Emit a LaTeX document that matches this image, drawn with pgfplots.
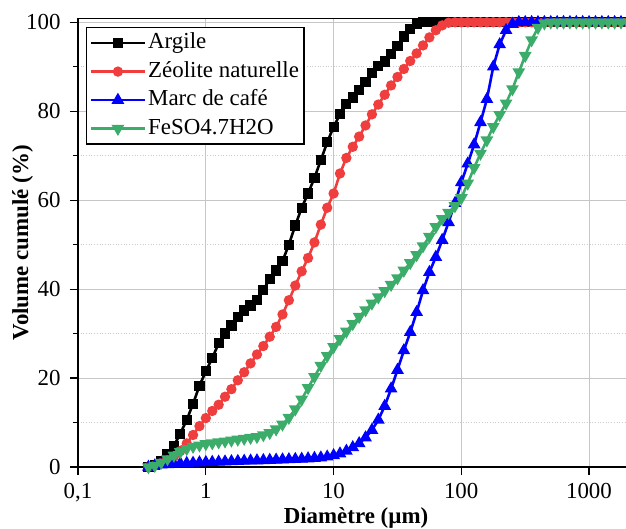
\documentclass[border=0pt]{standalone}
\usepackage{fontspec}
\setmainfont{Liberation Serif}
\usepackage{pgfplots}
\pgfplotsset{compat=1.18}
\definecolor{cred}{RGB}{240,62,62}
\definecolor{cblue}{RGB}{0,0,255}
\definecolor{cgreen}{RGB}{60,172,106}
\begin{document}
\begin{tikzpicture}
\path[use as bounding box] (-78bp,-62bp) rectangle (548bp,467bp);
\begin{axis}[
  at={(0,0)}, anchor=south west,
  scale only axis, width=548bp, height=448.5bp,
  xmode=log, log basis x=10,
  xmin=0.1, xmax=1950, ymin=0, ymax=100.85,
  clip=false,
  axis x line*=bottom, axis y line*=left,
  axis line style={-, line width=1.3bp, black},
  font=\fontsize{23}{27}\selectfont,
  /pgf/number format/assume math mode=true,
  tick label style={font=\fontsize{23}{27}\selectfont},
  xticklabel style={yshift=-5bp},
  yticklabel style={xshift=-6bp},
  xtick={0.1,1,10,100,1000},
  xticklabels={{0,1},{1},{10},{100},{1000}},
  ytick={0,20,40,60,80,100},
  minor ytick={10,30,50,70,90},
  tick align=outside,
  major tick length=8bp, minor tick length=5bp,
  tick style={black, line width=1.2bp},
  grid=both,
  major grid style={gray!45, line width=0.8bp, solid},
  minor grid style={gray!40, line width=0.7bp, dotted},
  xlabel={\textbf{Diamètre (µm)}},
  ylabel={\textbf{Volume cumulé (\%)}},
  xlabel style={at={(axis description cs:0.5,0)}, anchor=base, yshift=-56bp, xshift=4bp},
  ylabel style={at={(axis description cs:0,0.5)}, anchor=north, inner sep=0pt, yshift=66bp},
  legend cell align=left,
  legend style={at={(axis description cs:0,1)}, anchor=north west, xshift=8bp, yshift=-8.5bp,
    draw=black, line width=1.2bp, fill=white, inner sep=3bp, row sep=3.5bp,
    font=\fontsize{23}{27}\selectfont,
    nodes={inner sep=2bp, text height=16bp, text depth=5bp}},
  legend image code/.code={\draw[mark repeat=2,mark phase=2,#1] plot coordinates {(0bp,0bp) (27bp,0bp) (54bp,0bp)};},
  every axis plot/.append style={line width=2.6bp},
]
\addplot[black, mark=square*, mark size=3.8bp, mark options={solid}] coordinates {
(0.356,0) (0.399,0.5) (0.448,1.4) (0.502,2.8) (0.564,4.8) (0.632,7.5) (0.710,10.6) (0.796,14.2) (0.893,18.3) (1.002,21.5) (1.125,24.5) (1.262,27.8) (1.416,30.0) (1.589,31.8) (1.783,33.8) (2.000,35.2) (2.244,36.3) (2.518,37.6) (2.825,39.8) (3.170,42.3) (3.557,44.2) (3.991,46.3) (4.477,50.0) (5.024,54.3) (5.637,58.3) (6.325,61.5) (7.096,65.0) (7.962,69.0) (8.934,73.0) (10.024,76.5) (11.247,79.3) (12.619,81.6) (14.159,83.1) (15.887,84.7) (17.825,86.5) (20.000,88.6) (22.440,90.1) (25.179,91.2) (28.251,92.8) (31.698,94.6) (35.566,96.8) (39.905,98.5) (44.774,99.6) (50.238,100) (56.368,100) (63.246,100) (70.963,100) (79.621,100) (89.337,100) (100.237,100) (112.468,100) (126.191,100) (141.589,100) (158.866,100) (178.250,100) (200.000,100) (224.404,100) (251.785,100) (282.508,100) (316.979,100) (355.656,100) (399.052,100) (447.744,100) (502.377,100) (563.677,100) (632.456,100) (709.627,100) (796.214,100) (893.367,100) (1002.374,100) (1124.683,100) (1261.915,100) (1415.892,100) (1588.656,100) (1782.502,100) (2000,100)
};
\addlegendentry{Argile}
\addplot[cred, mark=*, mark size=3.8bp, mark options={solid}] coordinates {
(0.356,0) (0.399,0.3) (0.448,0.9) (0.502,1.5) (0.564,2.4) (0.632,3.6) (0.710,5.3) (0.796,7.2) (0.893,9.2) (1.002,11.0) (1.125,12.6) (1.262,14.0) (1.416,15.8) (1.589,17.5) (1.783,19.5) (2.000,21.3) (2.244,23.3) (2.518,25.3) (2.825,27.2) (3.170,29.3) (3.557,31.5) (3.991,34.3) (4.477,37.5) (5.024,40.8) (5.637,44.0) (6.325,47.0) (7.096,50.5) (7.962,54.5) (8.934,58.3) (10.024,61.5) (11.247,66.0) (12.619,69.5) (14.159,72.0) (15.887,74.3) (17.825,76.8) (20.000,79.3) (22.440,81.5) (25.179,83.7) (28.251,85.8) (31.698,87.7) (35.566,89.5) (39.905,91.3) (44.774,93.0) (50.238,94.8) (56.368,96.6) (63.246,98.2) (70.963,99.3) (79.621,99.9) (89.337,100) (100.237,100) (112.468,100) (126.191,100) (141.589,100) (158.866,100) (178.250,100) (200.000,100) (224.404,100) (251.785,100) (282.508,100) (316.979,100) (355.656,100) (399.052,100) (447.744,100) (502.377,100) (563.677,100) (632.456,100) (709.627,100) (796.214,100) (893.367,100) (1002.374,100) (1124.683,100) (1261.915,100) (1415.892,100) (1588.656,100) (1782.502,100) (2000,100)
};
\addlegendentry{Zéolite naturelle}
\addplot[cblue, mark=triangle*, mark size=4.8bp, mark options={solid}] coordinates {
(0.356,0) (0.399,0.3) (0.448,0.5) (0.502,0.6) (0.564,0.7) (0.632,0.8) (0.710,0.85) (0.796,0.9) (0.893,1.0) (1.002,1.05) (1.125,1.1) (1.262,1.15) (1.416,1.2) (1.589,1.25) (1.783,1.3) (2.000,1.35) (2.244,1.4) (2.518,1.45) (2.825,1.5) (3.170,1.55) (3.557,1.6) (3.991,1.65) (4.477,1.7) (5.024,1.75) (5.637,1.8) (6.325,1.9) (7.096,2.0) (7.962,2.1) (8.934,2.3) (10.024,2.6) (11.247,3.0) (12.619,3.6) (14.159,4.4) (15.887,5.3) (17.825,6.6) (20.000,8.3) (22.440,10.6) (25.179,13.7) (28.251,17.6) (31.698,21.8) (35.566,26.2) (39.905,30.3) (44.774,34.8) (50.238,39.7) (56.368,43.8) (63.246,47.2) (70.963,51.0) (79.621,55.0) (89.337,59.3) (100.237,64.0) (112.468,68.2) (126.191,72.5) (141.589,77.5) (158.866,82.7) (178.250,90.0) (200.000,95.0) (224.404,98.2) (251.785,99.6) (282.508,100) (316.979,100) (355.656,100) (399.052,100) (447.744,100) (502.377,100) (563.677,100) (632.456,100) (709.627,100) (796.214,100) (893.367,100) (1002.374,100) (1124.683,100) (1261.915,100) (1415.892,100) (1588.656,100) (1782.502,100) (2000,100)
};
\addlegendentry{Marc de café}
\addplot[cgreen, mark=triangle*, mark size=4.8bp, mark options={solid, rotate=180}] coordinates {
(0.356,0) (0.399,0.3) (0.448,1.0) (0.502,1.8) (0.564,2.6) (0.632,3.4) (0.710,4.1) (0.796,4.6) (0.893,4.9) (1.002,5.2) (1.125,5.4) (1.262,5.6) (1.416,5.8) (1.589,6.0) (1.783,6.2) (2.000,6.4) (2.244,6.6) (2.518,6.8) (2.825,7.2) (3.170,7.7) (3.557,8.5) (3.991,9.6) (4.477,11.1) (5.024,13.0) (5.637,15.2) (6.325,17.8) (7.096,20.3) (7.962,22.8) (8.934,25.0) (10.024,27.0) (11.247,28.8) (12.619,30.5) (14.159,32.2) (15.887,33.8) (17.825,35.3) (20.000,36.8) (22.440,38.2) (25.179,39.6) (28.251,41.0) (31.698,42.5) (35.566,44.2) (39.905,45.9) (44.774,47.7) (50.238,49.7) (56.368,51.8) (63.246,54.0) (70.963,55.8) (79.621,57.2) (89.337,58.7) (100.237,60.5) (112.468,63.8) (126.191,67.3) (141.589,70.5) (158.866,73.5) (178.250,76.5) (200.000,79.2) (224.404,81.8) (251.785,85.0) (282.508,88.8) (316.979,92.5) (355.656,96.0) (399.052,98.8) (447.744,99.8) (502.377,100) (563.677,100) (632.456,100) (709.627,100) (796.214,100) (893.367,100) (1002.374,100) (1124.683,100) (1261.915,100) (1415.892,100) (1588.656,100) (1782.502,100) (2000,100)
};
\addlegendentry{FeSO4.7H2O}
\draw[black, line width=1.3bp] (axis description cs:0,1) -- (axis description cs:1.01,1);
\end{axis}
\end{tikzpicture}
\end{document}
